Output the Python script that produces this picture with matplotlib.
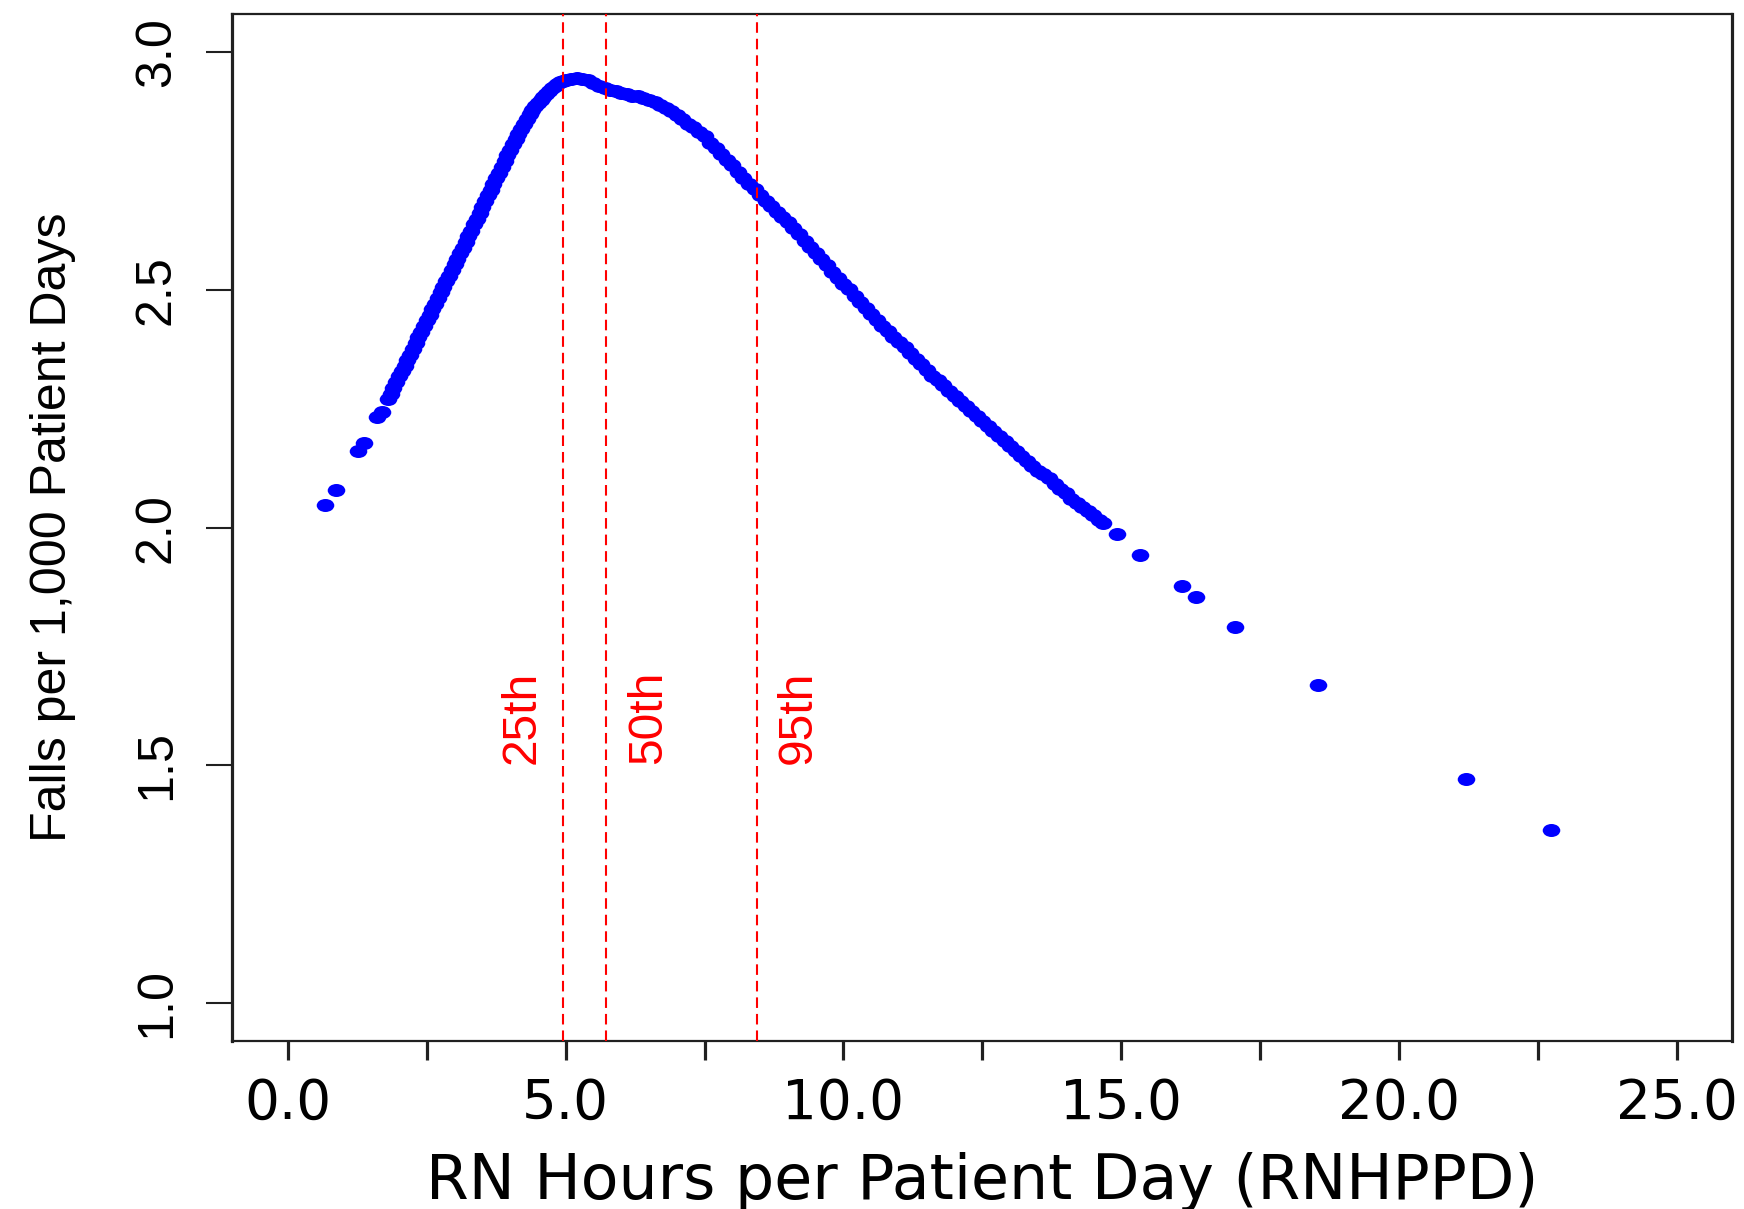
import matplotlib
matplotlib.use("Agg")
import matplotlib.pyplot as plt
from matplotlib import font_manager
from matplotlib.path import Path
from matplotlib.transforms import Affine2D

# curve, rising side (read every 0.05 h)
rise_x = [1.80, 1.85, 1.90, 1.95, 2.00, 2.05, 2.10, 2.15, 2.20, 2.25,
          2.30, 2.35, 2.40, 2.45, 2.50, 2.55, 2.60, 2.65, 2.70, 2.75,
          2.80, 2.85, 2.90, 2.95, 3.00, 3.05, 3.10, 3.15, 3.20, 3.25,
          3.30, 3.35, 3.40, 3.45, 3.50, 3.55, 3.60, 3.65, 3.70, 3.75,
          3.80, 3.85, 3.90, 3.95, 4.00, 4.05, 4.10, 4.15, 4.20, 4.25,
          4.30, 4.35, 4.40, 4.45, 4.50, 4.55, 4.60, 4.65, 4.70, 4.75,
          4.80, 4.85, 4.90, 4.95]
rise_y = [2.271, 2.282, 2.294, 2.306, 2.318, 2.329, 2.341, 2.353, 2.364, 2.376,
          2.388, 2.400, 2.412, 2.424, 2.436, 2.448, 2.459, 2.471, 2.483, 2.495,
          2.507, 2.519, 2.530, 2.542, 2.554, 2.565, 2.577, 2.589, 2.601, 2.613,
          2.625, 2.638, 2.650, 2.662, 2.675, 2.687, 2.699, 2.711, 2.723, 2.735,
          2.747, 2.759, 2.771, 2.783, 2.795, 2.807, 2.817, 2.828, 2.838, 2.849,
          2.859, 2.870, 2.879, 2.887, 2.894, 2.900, 2.906, 2.912, 2.919, 2.925,
          2.930, 2.934, 2.938, 2.940]

# curve, peak and falling side (read every 0.1 h)
fall_x = [5.0, 5.1, 5.2, 5.3, 5.4, 5.5, 5.6, 5.7, 5.8, 5.9,
          6.0, 6.1, 6.2, 6.3, 6.4, 6.5, 6.6, 6.7, 6.8, 6.9,
          7.0, 7.1, 7.2, 7.3, 7.4, 7.5, 7.6, 7.7, 7.8, 7.9,
          8.0, 8.1, 8.2, 8.3, 8.4, 8.5, 8.6, 8.7, 8.8, 8.9,
          9.0, 9.1, 9.2, 9.3, 9.4, 9.5, 9.6, 9.7, 9.8, 9.9,
          10.0, 10.1, 10.2, 10.3, 10.4, 10.5, 10.6, 10.7, 10.8, 10.9,
          11.0, 11.1, 11.2, 11.3, 11.4, 11.5, 11.6, 11.7, 11.8, 11.9,
          12.0, 12.1, 12.2, 12.3, 12.4, 12.5, 12.6, 12.7, 12.8, 12.9,
          13.0, 13.1, 13.2, 13.3, 13.4, 13.5, 13.6, 13.7, 13.8, 13.9,
          14.0, 14.1, 14.2, 14.3, 14.4, 14.5, 14.6, 14.67]
fall_y = [2.942, 2.944, 2.945, 2.944, 2.941, 2.935, 2.929, 2.924, 2.921, 2.918,
          2.915, 2.912, 2.909, 2.907, 2.904, 2.900, 2.895, 2.890, 2.883, 2.876,
          2.868, 2.859, 2.850, 2.842, 2.833, 2.823, 2.810, 2.798, 2.786, 2.774,
          2.762, 2.748, 2.735, 2.723, 2.712, 2.700, 2.688, 2.677, 2.665, 2.653,
          2.642, 2.630, 2.617, 2.604, 2.591, 2.578, 2.565, 2.552, 2.538, 2.525,
          2.513, 2.501, 2.488, 2.474, 2.461, 2.449, 2.437, 2.425, 2.414, 2.402,
          2.390, 2.379, 2.367, 2.355, 2.344, 2.332, 2.320, 2.310, 2.299, 2.288,
          2.277, 2.266, 2.256, 2.246, 2.235, 2.225, 2.214, 2.204, 2.193, 2.183,
          2.172, 2.162, 2.151, 2.141, 2.130, 2.120, 2.112, 2.104, 2.091, 2.081,
          2.072, 2.061, 2.051, 2.044, 2.035, 2.027, 2.016, 2.009]

# isolated units at both ends
lone_x = [0.66, 0.86, 1.27, 1.37, 1.61, 1.69, 14.92, 15.33, 16.09, 16.34,
          17.05, 18.54, 21.20, 22.74]
lone_y = [2.048, 2.079, 2.161, 2.179, 2.233, 2.244, 1.987, 1.943, 1.878, 1.853,
          1.791, 1.669, 1.472, 1.364]

pct_x = [4.96, 5.72, 8.45]
pct_lab = ["25th", "50th", "95th"]
pct_txt_x = [4.22, 6.50, 9.19]
pct_txt_y = 1.6

xticks = [0, 2.5, 5, 7.5, 10, 12.5, 15, 17.5, 20, 22.5, 25]
xlabels = ["0.0", "", "5.0", "", "10.0", "", "15.0", "", "20.0", "", "25.0"]
yticks = [1.0, 1.5, 2.0, 2.5, 3.0]
ylabels = ["1.0", "1.5", "2.0", "2.5", "3.0"]

names = {f.name for f in font_manager.fontManager.ttflist}
if "Liberation Sans Narrow" in names:
    narrow, k = "Liberation Sans Narrow", 1.0
else:
    narrow, k = "Liberation Sans", 0.82

plt.rcParams["font.family"] = "DejaVu Sans"
plt.rcParams["lines.scale_dashes"] = False

fig = plt.figure(figsize=(17.44, 12.09), dpi=100)
ax = fig.add_axes([0.1332, 0.1390, 0.8601, 0.8492])

dot = Path.unit_circle().transformed(Affine2D().scale(1.35, 1.0))
xs = rise_x + fall_x + lone_x
ys = rise_y + fall_y + lone_y
ax.scatter(xs, ys, s=160, marker=dot, color="#0000ff", linewidths=0, zorder=2)

for x in pct_x:
    ax.axvline(x, color="#ff0000", lw=1.5, ls=(0, (7.6, 4.3)), zorder=3)
for x, lab in zip(pct_txt_x, pct_lab):
    ax.text(x, pct_txt_y, lab, rotation=90, ha="center", va="center",
            color="#ff0000", fontfamily=narrow, fontsize=42 * k, zorder=4)

ax.set_xlim(-1, 26)
ax.set_ylim(0.92, 3.08)

ax.set_xticks(xticks, labels=xlabels, fontsize=39.5)
ax.set_yticks(yticks, labels=ylabels, rotation=90, va="center",
              fontfamily=narrow, fontsize=44 * k)
ax.tick_params(axis="x", length=14, width=2.3, pad=12, color="#202020")
ax.tick_params(axis="y", length=18.7, width=1.5, pad=19, color="#202020")

for side in ["left", "right"]:
    ax.spines[side].set_linewidth(2.3)
for side in ["top", "bottom"]:
    ax.spines[side].set_linewidth(1.6)
for sp in ax.spines.values():
    sp.set_color("#202020")

ax.set_xlabel("RN Hours per Patient Day (RNHPPD)", fontsize=44.5)
ax.xaxis.set_label_coords(0.5, -0.108)
ax.set_ylabel("Falls per 1,000 Patient Days", fontfamily=narrow, fontsize=44 * k)
ax.yaxis.set_label_coords(-0.1045, 0.5)

fig.savefig("out.png", dpi=100)
